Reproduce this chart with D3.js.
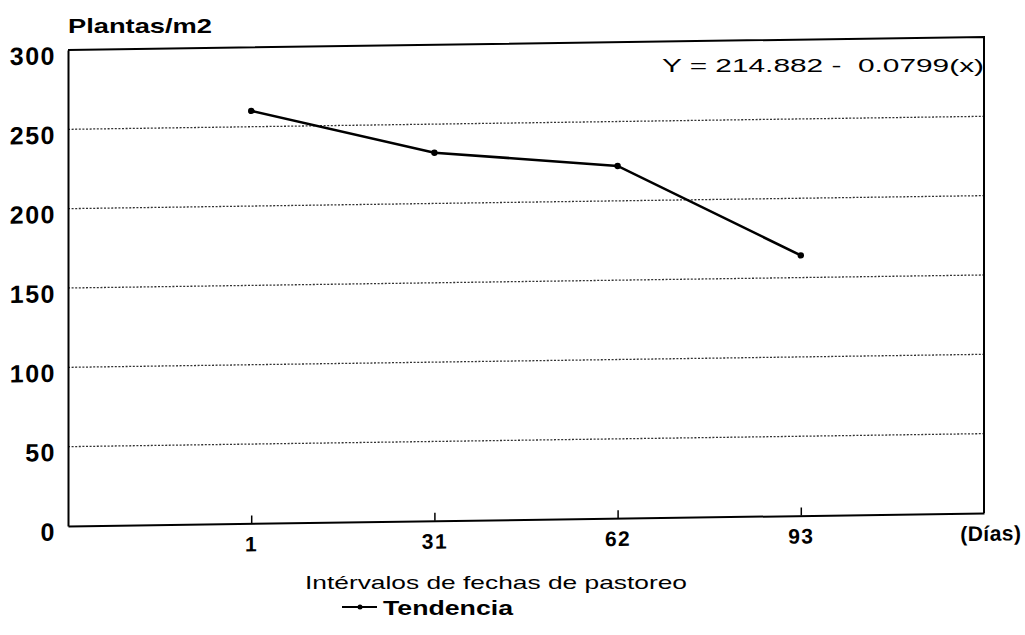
<!DOCTYPE html>
<html>
<head>
<meta charset="utf-8">
<script src="https://cdn.jsdelivr.net/npm/d3@7"></script>
<style>
  body { margin: 0; background: #fff; }
  svg { display: block; font-family: "Liberation Sans", Arial, sans-serif; }
</style>
</head>
<body>
<div id="chart"></div>
<script>
// values
const categories = ["1", "31", "62", "93"];
const plantas = [260, 232, 222, 164];
const yTicks = [0, 50, 100, 150, 200, 250, 300];
const xUnit = "(Días)";

const W = 1025, H = 635;
const margin = { top: 50, right: 41, bottom: 109, left: 68 },
      width = W - margin.left - margin.right,
      height = H - margin.top - margin.bottom;

const svg = d3.select("#chart")
              .append("svg")
              .attr("width", W)
              .attr("height", H);

// the scan is slightly sheared: horizontals rise to the right, verticals stay vertical
const plot = svg.append("g")
                .attr("transform", `translate(${margin.left},0) skewY(-0.815) translate(${-margin.left},0)`);

const x = d3.scalePoint()
            .domain(["", ...categories, xUnit])
            .range([margin.left, margin.left + width]);

const y = d3.scaleLinear()
            .domain([0, 300])
            .range([margin.top + height, margin.top]);

// dotted gridlines
plot.append("g")
    .selectAll("line")
    .data(yTicks.filter(d => d > 0 && d < 300))
    .join("line")
    .attr("x1", margin.left)
    .attr("x2", margin.left + width)
    .attr("y1", d => y(d))
    .attr("y2", d => y(d))
    .attr("stroke", "#333")
    .attr("stroke-width", 1.3)
    .attr("stroke-dasharray", "2,1.6");

// top and right frame
plot.append("path")
    .attr("d", `M${margin.left},${y(300)}H${margin.left + width}V${y(0)}`)
    .attr("fill", "none")
    .attr("stroke", "#000")
    .attr("stroke-width", 2);

const xAxis = plot.append("g")
    .attr("transform", `translate(0,${y(0)})`)
    .call(d3.axisBottom(x)
            .tickValues(categories.concat([xUnit]))
            .tickSizeInner(-8)
            .tickSizeOuter(0)
            .tickPadding(13));
xAxis.selectAll("text")
     .attr("font-family", "Liberation Sans, Arial, sans-serif")
     .attr("font-size", 21)
     .attr("font-weight", "bold")
     .attr("letter-spacing", 1.5)
     .attr("fill", "#000");
const unitTick = xAxis.selectAll(".tick").filter(d => d === xUnit);
unitTick.select("line").remove();
unitTick.select("text")
        .attr("text-anchor", "end")
        .attr("letter-spacing", 0.5)
        .attr("x", 37);
xAxis.select(".domain").attr("stroke-width", 2);
xAxis.selectAll(".tick line").attr("stroke-width", 1.5);

const yAxis = plot.append("g")
    .attr("transform", `translate(${margin.left},0)`)
    .call(d3.axisLeft(y)
            .tickValues(yTicks)
            .tickSize(0)
            .tickPadding(12));
yAxis.selectAll("text")
     .attr("font-family", "Liberation Sans, Arial, sans-serif")
     .attr("font-size", 25)
     .attr("font-weight", "bold")
     .attr("letter-spacing", 1.5)
     .attr("dy", "0.55em")
     .attr("fill", "#000");
yAxis.select(".domain").attr("stroke-width", 2);

// trend line
const line = d3.line()
               .x((d, i) => x(categories[i]))
               .y(d => y(d));

plot.append("path")
    .datum(plantas)
    .attr("fill", "none")
    .attr("stroke", "#000")
    .attr("stroke-width", 2.6)
    .attr("d", line);

plot.append("g")
    .selectAll("circle")
    .data(plantas)
    .join("circle")
    .attr("cx", (d, i) => x(categories[i]))
    .attr("cy", d => y(d))
    .attr("r", 3.2)
    .attr("fill", "#000");

// texts
svg.append("text")
   .attr("x", 68)
   .attr("y", 33)
   .attr("font-size", 21)
   .attr("font-weight", "bold")
   .attr("textLength", 144)
   .attr("lengthAdjust", "spacingAndGlyphs")
   .text("Plantas/m2");

svg.append("text")
   .attr("x", 662)
   .attr("y", 72)
   .attr("font-size", 19)
   .attr("textLength", 322)
   .attr("lengthAdjust", "spacingAndGlyphs")
   .attr("xml:space", "preserve")
   .text("Y = 214.882 -  0.0799(x)");

svg.append("text")
   .attr("x", 305)
   .attr("y", 589)
   .attr("font-size", 19)
   .attr("textLength", 382)
   .attr("lengthAdjust", "spacingAndGlyphs")
   .text("Intérvalos de fechas de pastoreo");

// legend
const legend = svg.append("g").attr("transform", "translate(342,607)");
legend.append("line")
      .attr("x1", 0).attr("x2", 35)
      .attr("stroke", "#000")
      .attr("stroke-width", 2);
legend.append("circle")
      .attr("cx", 18).attr("r", 2.5)
      .attr("fill", "#000");
legend.append("text")
      .attr("x", 41)
      .attr("y", 8)
      .attr("font-size", 21)
      .attr("font-weight", "bold")
      .attr("textLength", 130)
      .attr("lengthAdjust", "spacingAndGlyphs")
      .text("Tendencia");
</script>
</body>
</html>
